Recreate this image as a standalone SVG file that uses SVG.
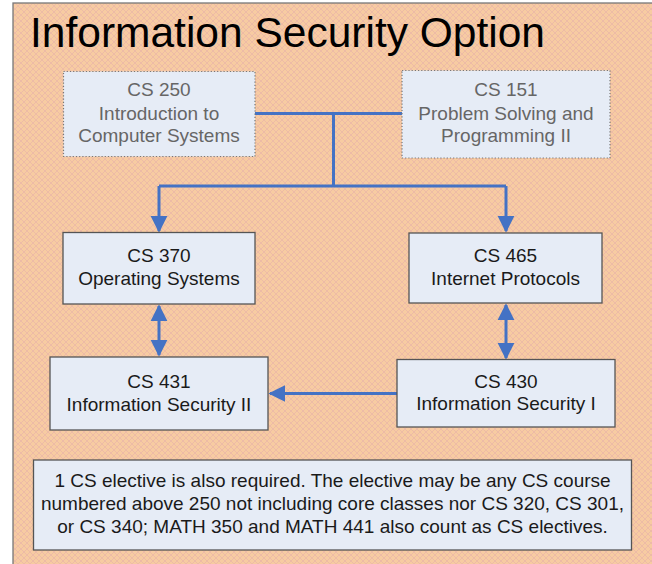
<svg xmlns="http://www.w3.org/2000/svg" width="652" height="564" viewBox="0 0 652 564">
  <defs>
    <pattern id="lattice" width="6" height="6" patternUnits="userSpaceOnUse">
      <rect width="6" height="6" fill="#f7cba2"/>
      <path d="M0 0 L6 6 M6 0 L0 6" stroke="#ebb8a7" stroke-width="0.8" fill="none"/>
    </pattern>
    <marker id="arrow" viewBox="0 0 10 10" refX="9" refY="5" markerWidth="5.7" markerHeight="5.7" orient="auto-start-reverse" markerUnits="strokeWidth">
      <path d="M0 0 L10 5 L0 10 Z" fill="#4472c4"/>
    </marker>
  </defs>
  <style>
    .title { font-family: "Liberation Sans", Arial, sans-serif; font-size: 42.5px; fill: #000; }
    .box { fill: #e6ecf6; stroke: #555; stroke-width: 1.3; }
    .box-dot { fill: #e6ecf6; stroke: #777; stroke-width: 1.2; stroke-dasharray: 1.2 2; }
    .lbl { font-family: "Liberation Sans", Arial, sans-serif; font-size: 19px; fill: #1a1a1a; text-anchor: middle; }
    .lbl-dim { font-family: "Liberation Sans", Arial, sans-serif; font-size: 19px; fill: #666; text-anchor: middle; }
    .note { font-family: "Liberation Sans", Arial, sans-serif; font-size: 19px; fill: #1a1a1a; text-anchor: middle; }
    .wire { fill: none; stroke: #4472c4; stroke-width: 3; }
  </style>

  <!-- page background -->
  <rect width="652" height="564" fill="#ffffff"/>
  <rect x="13" y="3" width="645" height="570" fill="url(#lattice)" stroke="#777" stroke-width="1.3"/>

  <text class="title" x="30" y="47">Information Security Option</text>

  <!-- connectors -->
  <g id="connectors">
    <path class="wire" d="M255 113.5 H402 M333.5 113.5 V186"/>
    <path class="wire" d="M159 186 H506" />
    <path class="wire" d="M159 186 V231" marker-end="url(#arrow)"/>
    <path class="wire" d="M506 186 V231" marker-end="url(#arrow)"/>
    <path class="wire" d="M159 306 V355" marker-start="url(#arrow)" marker-end="url(#arrow)"/>
    <path class="wire" d="M506 305 V358" marker-start="url(#arrow)" marker-end="url(#arrow)"/>
    <path class="wire" d="M397 393.5 H270" marker-end="url(#arrow)"/>
  </g>

  <g id="cs250">
    <rect class="box-dot" x="63.5" y="71.5" width="191.5" height="85"/>
    <text class="lbl-dim" x="159" y="96">CS 250</text>
    <text class="lbl-dim" x="159" y="119.5">Introduction to</text>
    <text class="lbl-dim" x="159" y="142">Computer Systems</text>
  </g>

  <g id="cs151">
    <rect class="box-dot" x="402" y="70.5" width="208" height="87.5"/>
    <text class="lbl-dim" x="506" y="96">CS 151</text>
    <text class="lbl-dim" x="506" y="119.5">Problem Solving and</text>
    <text class="lbl-dim" x="506" y="142">Programming II</text>
  </g>

  <g id="cs370">
    <rect class="box" x="63" y="232.5" width="192" height="71.5"/>
    <text class="lbl" x="159" y="262">CS 370</text>
    <text class="lbl" x="159" y="285">Operating Systems</text>
  </g>

  <g id="cs465">
    <rect class="box" x="409" y="233" width="193" height="70"/>
    <text class="lbl" x="505.5" y="262">CS 465</text>
    <text class="lbl" x="505.5" y="285">Internet Protocols</text>
  </g>

  <g id="cs431">
    <rect class="box" x="50" y="357" width="218" height="73"/>
    <text class="lbl" x="159" y="388">CS 431</text>
    <text class="lbl" x="159" y="411">Information Security II</text>
  </g>

  <g id="cs430">
    <rect class="box" x="397" y="359.5" width="218" height="67.5"/>
    <text class="lbl" x="506" y="388">CS 430</text>
    <text class="lbl" x="506" y="410">Information Security I</text>
  </g>

  <g id="elective-note">
    <rect class="box" x="33.5" y="460" width="598" height="90"/>
    <text class="note" x="332.5" y="487">1 CS elective is also required. The elective may be any CS course</text>
    <text class="note" x="332.5" y="510">numbered above 250 not including core classes nor CS 320, CS 301,</text>
    <text class="note" x="332.5" y="533">or CS 340; MATH 350 and MATH 441 also count as CS electives.</text>
  </g>
</svg>
